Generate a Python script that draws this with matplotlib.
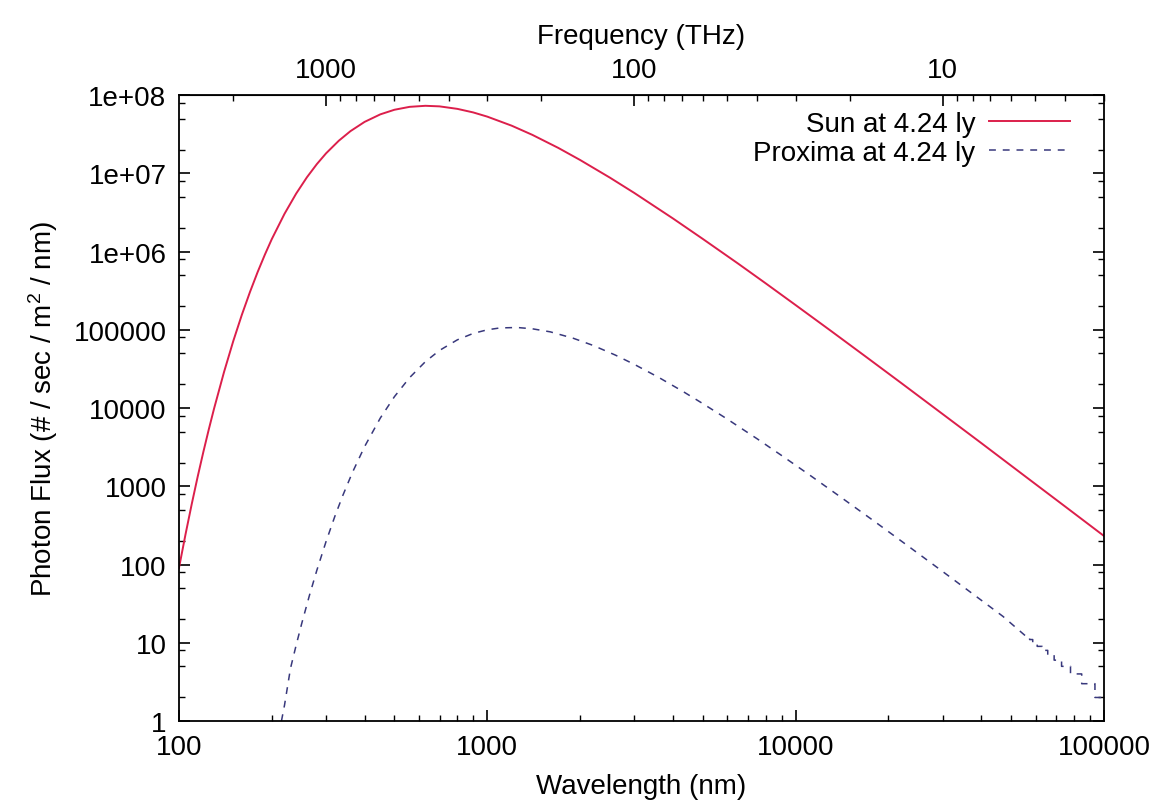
import numpy as np
import matplotlib
matplotlib.use('Agg')
from matplotlib import pyplot as plt
from matplotlib.ticker import FixedLocator, FixedFormatter, LogLocator, NullFormatter

plt.rcParams['font.family'] = ['Liberation Sans', 'DejaVu Sans']
plt.rcParams['mathtext.default'] = 'regular'

# wavelength (nm) / photon flux
sun_wl = [100, 105, 110, 115, 120, 125, 130, 140, 150, 160, 170, 180, 190, 200, 220,
          240, 260, 280, 300, 330, 360, 400, 450, 500, 560, 630, 700, 800, 900,
          1000, 1200, 1400, 1700, 2000, 2500, 3000, 4000, 5000, 6500, 8000, 10000,
          13000, 17000, 22000, 30000, 40000, 55000, 75000, 100000]
sun_flux = [90, 242, 591, 1325, 2754, 5360, 9860, 2.88e4, 7.16e4, 1.56e5, 3.05e5,
            5.48e5, 9.15e5, 1.44e6, 3.04e6, 5.51e6, 8.89e6, 1.31e7, 1.80e7, 2.61e7,
            3.46e7, 4.54e7, 5.67e7, 6.49e7, 7.07e7, 7.29e7, 7.17e7, 6.66e7, 6.0e7,
            5.30e7, 4.06e7, 3.10e7, 2.11e7, 1.48e7, 8.79e6, 5.60e6, 2.65e6, 1.45e6,
            7.04e5, 3.92e5, 2.07e5, 9.72e4, 4.45e4, 2.09e4, 8.36e3, 3.57e3, 1.38e3,
            548, 232]

prox_wl = [215, 220, 230, 240, 250, 265, 280, 300, 320, 340, 365, 400, 450,
           500, 560, 630, 700, 800, 900, 1000, 1100, 1250, 1400, 1600, 1900, 2200,
           2600, 3000, 3600, 4300, 5000, 6000, 7500, 9000, 11000, 14000, 18000,
           23000, 30000, 38000, 47000, 56000,
           57400, 57400, 58750, 58750, 60740, 60740, 63030, 63030, 65720, 65720,
           68940, 68940, 72870, 72870, 77900, 77900, 84700, 84700, 93500, 93500,
           100000]
prox_flux = [1.0, 1.6, 4.71, 9.35, 17.5, 40.4, 84.3, 197, 408, 764, 1493, 3215,
             7470, 1.40e4, 2.45e4, 3.92e4, 5.45e4, 7.45e4, 8.99e4, 1.0e5, 1.057e5,
             1.07e5, 1.03e5, 9.42e4, 7.80e4, 6.33e4, 4.76e4, 3.61e4, 2.46e4, 1.64e4,
             1.14e4, 7.23e3, 4.05e3, 2.48e3, 1.43e3, 728, 357, 176, 81.3, 40.7, 21.8,
             12,
             12, 11, 11, 10, 10, 9, 9, 8, 8, 7,
             7, 6, 6, 5, 5, 4, 4, 3, 3, 2,
             2]

y_ticks = [1, 10, 100, 1000, 10000, 100000, 1e6, 1e7, 1e8]
y_labels = ['1', '10', '100', '1000', '10000', '100000', '1e+06', '1e+07', '1e+08']
x_ticks = [100, 1000, 10000, 100000]
x_labels = ['100', '1000', '10000', '100000']
f_ticks = [1000, 100, 10]
f_labels = ['1000', '100', '10']

C_NM_THZ = 299792.458

fig = plt.figure(figsize=(11.59, 8.12), dpi=100)
ax = fig.add_axes([0.1544, 0.1108, 0.7981, 0.7709])

ax.plot(sun_wl, sun_flux, color='#dc1f4b', lw=1.4, label='Sun at 4.24 ly')
ax.plot(prox_wl, prox_flux, color='#38387c', lw=1.1, dashes=(4.5, 4.5),
        label='Proxima at 4.24 ly')

ax.set_xscale('log')
ax.set_yscale('log')
ax.set_xlim(100, 100000)
ax.set_ylim(1, 1e8)

ax.xaxis.set_major_locator(FixedLocator(x_ticks))
ax.xaxis.set_major_formatter(FixedFormatter(x_labels))
ax.xaxis.set_minor_locator(LogLocator(base=10, subs=range(2, 10)))
ax.xaxis.set_minor_formatter(NullFormatter())
ax.yaxis.set_major_locator(FixedLocator(y_ticks))
ax.yaxis.set_major_formatter(FixedFormatter(y_labels))
ax.yaxis.set_minor_locator(LogLocator(base=10, subs=[2, 5, 8]))
ax.yaxis.set_minor_formatter(NullFormatter())

ax.tick_params(which='both', direction='in', labelsize=20, right=True, top=False)
ax.tick_params(which='major', length=8, width=1.2, pad=9)
ax.tick_params(which='minor', length=4.5, width=1.0)
for sp in ax.spines.values():
    sp.set_linewidth(1.3)

# frequency axis on top
sec = ax.secondary_xaxis('top', functions=(lambda x: C_NM_THZ / np.asarray(x),
                                           lambda f: C_NM_THZ / np.asarray(f)))
sec.xaxis.set_major_locator(FixedLocator(f_ticks))
sec.xaxis.set_major_formatter(FixedFormatter(f_labels))
sec.xaxis.set_minor_locator(LogLocator(base=10, subs=range(2, 10)))
sec.xaxis.set_minor_formatter(NullFormatter())
sec.tick_params(which='both', direction='in', labelsize=20)
sec.tick_params(which='major', length=8, width=1.2, pad=9)
sec.tick_params(which='minor', length=4.5, width=1.0)
sec.set_xlabel('Frequency (THz)', fontsize=20, labelpad=10)

ax.set_xlabel('Wavelength (nm)', fontsize=20, labelpad=10)
ax.set_ylabel('Photon Flux (# / sec / m$^{2}$ / nm)', fontsize=20, labelpad=10)

ax.legend(loc='upper right', bbox_to_anchor=(0.963, 0.975), frameon=False,
          markerfirst=False, fontsize=20, handlelength=2.9, handletextpad=0.5,
          labelspacing=0.12, borderaxespad=0, borderpad=0)

plt.savefig('out.png', dpi=100)
